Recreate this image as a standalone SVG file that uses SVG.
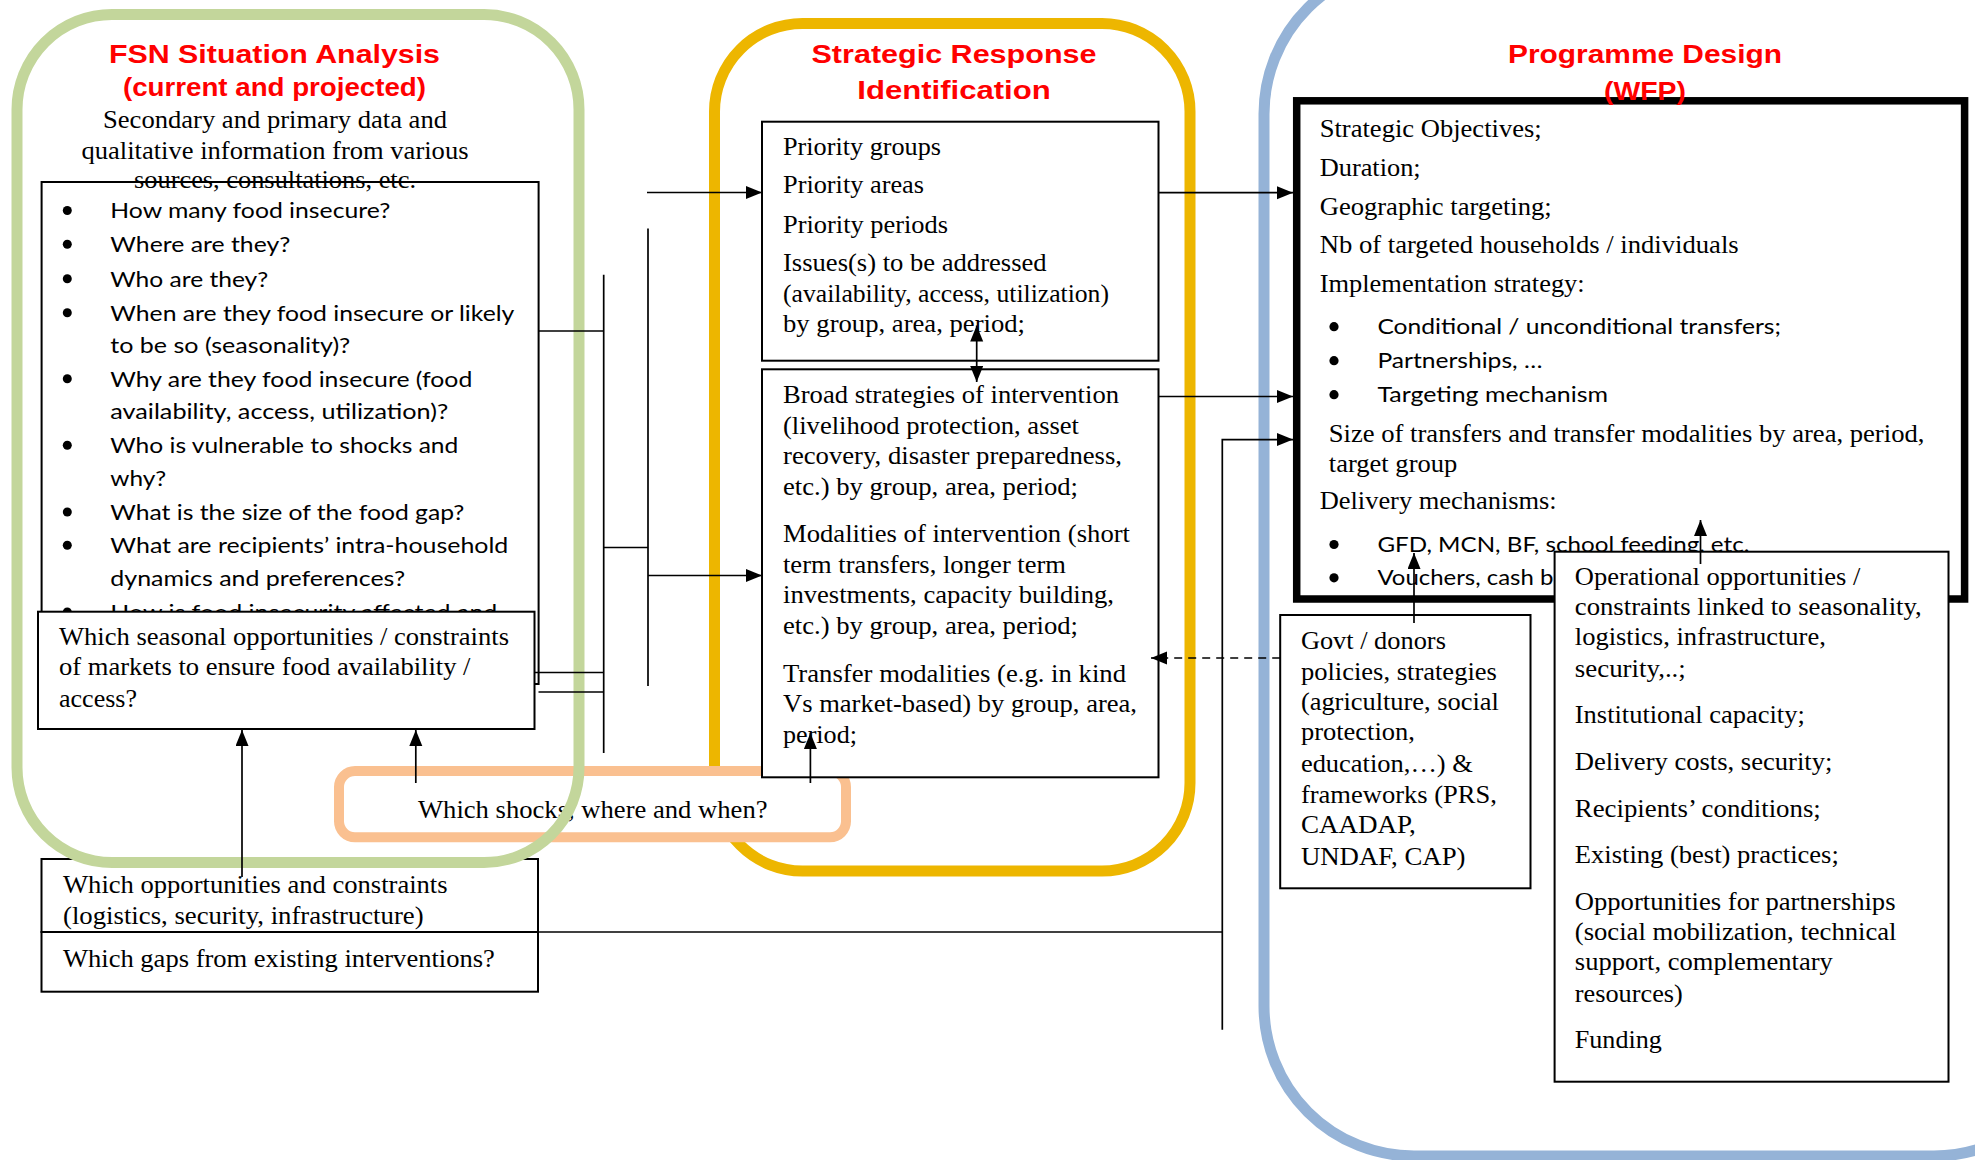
<svg xmlns="http://www.w3.org/2000/svg" width="1975" height="1160" viewBox="0 0 1975 1160">
<style>
.bg{fill:#ffffff}
.frame{fill:none;stroke-width:11}
.box{fill:#ffffff;stroke:#000000;stroke-width:2}
.ser{font-family:'Liberation Serif','Times New Roman',serif;font-size:26px;fill:#000000}
.cal{font-family:Lato,'Liberation Sans',sans-serif;font-size:22px;fill:#000000}
.ttl{font-family:'Liberation Sans',Arial,sans-serif;font-weight:bold;font-size:25px;fill:#ff0000;text-anchor:middle}
.ln{fill:none;stroke:#000000;stroke-width:1.7}
.dash{fill:none;stroke:#000000;stroke-width:1.7;stroke-dasharray:8 6}
.dot{fill:#000000}
</style>
<defs>
<marker id="ah" markerUnits="userSpaceOnUse" markerWidth="17" markerHeight="14" refX="16" refY="6.5" orient="auto-start-reverse">
<path d="M0,0 L16,6.5 L0,13 z" fill="#000000"/>
</marker>
</defs>
<rect class="bg" x="0" y="0" width="1975" height="1160"/>

<g id="frame-strategic">
<rect class="frame" x="714.5" y="23.5" width="475.5" height="847.5" rx="88" ry="88" stroke="#EDB600"/>
</g>
<g id="frame-programme">
<rect class="frame" x="1264" y="-36" width="820" height="1192" rx="150" ry="150" stroke="#95B3D7"/>
</g>

<g id="titles">
<text class="ttl" x="274.5" y="62.7" textLength="331" lengthAdjust="spacingAndGlyphs">FSN Situation Analysis</text>
<text class="ttl" x="274.5" y="96" font-size="23" textLength="303" lengthAdjust="spacingAndGlyphs">(current and projected)</text>
<text class="ttl" x="954" y="62.7" textLength="285" lengthAdjust="spacingAndGlyphs">Strategic Response</text>
<text class="ttl" x="954" y="99.3" textLength="193.5" lengthAdjust="spacingAndGlyphs">Identification</text>
<text class="ttl" x="1645" y="62.7" textLength="274" lengthAdjust="spacingAndGlyphs">Programme Design</text>
</g>

<g id="node-questions">
<rect class="box" x="41.6" y="182" width="497" height="502"/>
<text class="ser" font-size="27" text-anchor="middle" x="275" y="128" textLength="344" lengthAdjust="spacingAndGlyphs">Secondary and primary data and</text>
<text class="ser" font-size="27" text-anchor="middle" x="275" y="159" textLength="387" lengthAdjust="spacingAndGlyphs">qualitative information from various</text>
<text class="ser" font-size="27" text-anchor="middle" x="275" y="188" textLength="282" lengthAdjust="spacingAndGlyphs">sources, consultations, etc.</text>
<circle class="dot" cx="67.3" cy="210.5" r="4.5"/>
<circle class="dot" cx="67.3" cy="244.3" r="4.5"/>
<circle class="dot" cx="67.3" cy="278.7" r="4.5"/>
<circle class="dot" cx="67.3" cy="312.7" r="4.5"/>
<circle class="dot" cx="67.3" cy="378.7" r="4.5"/>
<circle class="dot" cx="67.3" cy="445.3" r="4.5"/>
<circle class="dot" cx="67.3" cy="512" r="4.5"/>
<circle class="dot" cx="67.3" cy="545.3" r="4.5"/>
<circle class="dot" cx="67.3" cy="612" r="4.5"/>
<text class="cal" x="110.3" y="218.3" textLength="280" lengthAdjust="spacingAndGlyphs">How many food insecure?</text>
<text class="cal" x="110.3" y="252.3" textLength="180" lengthAdjust="spacingAndGlyphs">Where are they?</text>
<text class="cal" x="110.3" y="286.7" textLength="158" lengthAdjust="spacingAndGlyphs">Who are they?</text>
<text class="cal" x="110.3" y="320.7" textLength="404" lengthAdjust="spacingAndGlyphs">When are they food insecure or likely</text>
<text class="cal" x="110.3" y="353.3" textLength="240" lengthAdjust="spacingAndGlyphs">to be so (seasonality)?</text>
<text class="cal" x="110.3" y="386.7" textLength="362" lengthAdjust="spacingAndGlyphs">Why are they food insecure (food</text>
<text class="cal" x="110.3" y="419.3" textLength="338" lengthAdjust="spacingAndGlyphs">availability, access, utilization)?</text>
<text class="cal" x="110.3" y="453.3" textLength="348" lengthAdjust="spacingAndGlyphs">Who is vulnerable to shocks and</text>
<text class="cal" x="110.3" y="486" textLength="56" lengthAdjust="spacingAndGlyphs">why?</text>
<text class="cal" x="110.3" y="520" textLength="354" lengthAdjust="spacingAndGlyphs">What is the size of the food gap?</text>
<text class="cal" x="110.3" y="553.3" textLength="398" lengthAdjust="spacingAndGlyphs">What are recipients’ intra-household</text>
<text class="cal" x="110.3" y="586" textLength="295" lengthAdjust="spacingAndGlyphs">dynamics and preferences?</text>
<text class="cal" x="110.3" y="620" textLength="387" lengthAdjust="spacingAndGlyphs">How  is food insecurity affected and</text>
</g>

<g id="node-seasonal">
<rect class="box" x="38" y="611.7" width="496.5" height="117.3" stroke-width="2.5"/>
<text class="ser" x="59" y="645" textLength="450" lengthAdjust="spacingAndGlyphs">Which seasonal opportunities / constraints</text>
<text class="ser" x="59" y="675" textLength="411.5" lengthAdjust="spacingAndGlyphs">of markets to ensure food availability /</text>
<text class="ser" x="59" y="706.7" textLength="78" lengthAdjust="spacingAndGlyphs">access?</text>
</g>

<g id="node-opportunities">
<rect class="box" x="41.5" y="859" width="496.5" height="73"/>
<text class="ser" x="63" y="893.3" textLength="384.6" lengthAdjust="spacingAndGlyphs">Which opportunities and constraints</text>
<text class="ser" x="63" y="924" textLength="360.6" lengthAdjust="spacingAndGlyphs">(logistics, security, infrastructure)</text>
</g>
<g id="node-gaps">
<rect class="box" x="41.5" y="932" width="496.5" height="59.7"/>
<text class="ser" x="63" y="966.7" textLength="431.8" lengthAdjust="spacingAndGlyphs">Which gaps from existing interventions?</text>
</g>

<g id="node-shocks">
<rect x="339" y="771" width="507" height="66.3" rx="16" ry="16" fill="#ffffff" stroke="#FAC090" stroke-width="10"/>
<text class="ser" x="418" y="818.3" textLength="349.5" lengthAdjust="spacingAndGlyphs">Which shocks, where and when?</text>
</g>

<g id="node-priorities">
<rect class="box" x="762" y="121.7" width="396.5" height="239"/>
<text class="ser" font-size="27" x="783" y="155" textLength="158" lengthAdjust="spacingAndGlyphs">Priority groups</text>
<text class="ser" font-size="27" x="783" y="193.3" textLength="141" lengthAdjust="spacingAndGlyphs">Priority areas</text>
<text class="ser" font-size="27" x="783" y="232.7" textLength="165" lengthAdjust="spacingAndGlyphs">Priority periods</text>
<text class="ser" font-size="27" x="783" y="270.7" textLength="263.6" lengthAdjust="spacingAndGlyphs">Issues(s) to be addressed</text>
<text class="ser" font-size="27" x="783" y="301.7" textLength="326" lengthAdjust="spacingAndGlyphs">(availability, access, utilization)</text>
<text class="ser" font-size="27" x="783" y="331.7" textLength="242" lengthAdjust="spacingAndGlyphs">by group, area, period;</text>
</g>

<g id="node-strategies">
<rect class="box" x="762" y="369.3" width="396.5" height="408"/>
<text class="ser" font-size="27" x="783" y="403.3" textLength="336" lengthAdjust="spacingAndGlyphs">Broad strategies of intervention</text>
<text class="ser" font-size="27" x="783" y="434" textLength="296" lengthAdjust="spacingAndGlyphs">(livelihood protection, asset</text>
<text class="ser" font-size="27" x="783" y="464.3" textLength="339" lengthAdjust="spacingAndGlyphs">recovery, disaster preparedness,</text>
<text class="ser" font-size="27" x="783" y="495" textLength="295" lengthAdjust="spacingAndGlyphs">etc.) by group, area, period;</text>
<text class="ser" font-size="27" x="783" y="542.3" textLength="347" lengthAdjust="spacingAndGlyphs">Modalities of intervention (short</text>
<text class="ser" font-size="27" x="783" y="572.7" textLength="283" lengthAdjust="spacingAndGlyphs">term transfers, longer term</text>
<text class="ser" font-size="27" x="783" y="602.7" textLength="331" lengthAdjust="spacingAndGlyphs">investments, capacity building,</text>
<text class="ser" font-size="27" x="783" y="634" textLength="295" lengthAdjust="spacingAndGlyphs">etc.) by group, area, period;</text>
<text class="ser" font-size="27" x="783" y="681.7" textLength="343" lengthAdjust="spacingAndGlyphs">Transfer modalities (e.g. in kind</text>
<text class="ser" font-size="27" x="783" y="711.7" textLength="354" lengthAdjust="spacingAndGlyphs">Vs market-based) by group, area,</text>
<text class="ser" font-size="27" x="783" y="743.3" textLength="74" lengthAdjust="spacingAndGlyphs">period;</text>
</g>

<g id="node-programme">
<rect x="1296.7" y="100.8" width="667.9" height="498.2" fill="#ffffff" stroke="#000000" stroke-width="7.5"/>
<text class="ser" x="1319.7" y="136.7" textLength="222" lengthAdjust="spacingAndGlyphs">Strategic Objectives;</text>
<text class="ser" x="1319.7" y="176" textLength="101" lengthAdjust="spacingAndGlyphs">Duration;</text>
<text class="ser" x="1319.7" y="215" textLength="232" lengthAdjust="spacingAndGlyphs">Geographic targeting;</text>
<text class="ser" x="1319.7" y="253.3" textLength="419" lengthAdjust="spacingAndGlyphs">Nb of targeted households / individuals</text>
<text class="ser" x="1319.7" y="291.7" textLength="265" lengthAdjust="spacingAndGlyphs">Implementation strategy:</text>
<circle class="dot" cx="1334" cy="326.7" r="4.6"/>
<circle class="dot" cx="1334" cy="360.7" r="4.6"/>
<circle class="dot" cx="1334" cy="394.7" r="4.6"/>
<text class="cal" font-size="23" x="1377.4" y="334.3" textLength="403.5" lengthAdjust="spacingAndGlyphs">Conditional / unconditional transfers;</text>
<text class="cal" font-size="23" x="1377.4" y="368.3" textLength="165" lengthAdjust="spacingAndGlyphs">Partnerships, …</text>
<text class="cal" font-size="23" x="1377.4" y="402.3" textLength="230.6" lengthAdjust="spacingAndGlyphs">Targeting mechanism</text>
<text class="ser" x="1328.8" y="441.7" textLength="595.6" lengthAdjust="spacingAndGlyphs">Size of transfers and transfer modalities by area, period,</text>
<text class="ser" x="1328.8" y="471.7" textLength="128.5" lengthAdjust="spacingAndGlyphs">target group</text>
<text class="ser" x="1319.7" y="509.3" textLength="237" lengthAdjust="spacingAndGlyphs">Delivery mechanisms:</text>
<circle class="dot" cx="1334" cy="544.5" r="4.6"/>
<circle class="dot" cx="1334" cy="577.8" r="4.6"/>
<text class="cal" font-size="23" x="1377.4" y="551.7" textLength="372" lengthAdjust="spacingAndGlyphs">GFD, MCN, BF, school feeding, etc.</text>
<text class="cal" font-size="23" x="1377.4" y="585" textLength="176" lengthAdjust="spacingAndGlyphs">Vouchers, cash b</text>
<text class="ttl" x="1645" y="100" textLength="82" lengthAdjust="spacingAndGlyphs">(WFP)</text>
</g>

<g id="node-govt">
<rect class="box" x="1280.2" y="615" width="250.3" height="273.3"/>
<text class="ser" x="1300.9" y="649.3" textLength="145" lengthAdjust="spacingAndGlyphs">Govt / donors</text>
<text class="ser" x="1300.9" y="680" textLength="196" lengthAdjust="spacingAndGlyphs">policies, strategies</text>
<text class="ser" x="1300.9" y="710" textLength="198" lengthAdjust="spacingAndGlyphs">(agriculture, social</text>
<text class="ser" x="1300.9" y="740" textLength="114" lengthAdjust="spacingAndGlyphs">protection,</text>
<text class="ser" x="1300.9" y="771.7" textLength="172" lengthAdjust="spacingAndGlyphs">education,…) &amp;</text>
<text class="ser" x="1300.9" y="802.5" textLength="196" lengthAdjust="spacingAndGlyphs">frameworks (PRS,</text>
<text class="ser" x="1300.9" y="833.3" textLength="115" lengthAdjust="spacingAndGlyphs">CAADAP,</text>
<text class="ser" x="1300.9" y="865" textLength="164.6" lengthAdjust="spacingAndGlyphs">UNDAF, CAP)</text>
</g>

<g id="node-operational">
<rect class="box" x="1554.6" y="551.7" width="393.9" height="530"/>
<text class="ser" x="1574.8" y="585" textLength="285.6" lengthAdjust="spacingAndGlyphs">Operational opportunities /</text>
<text class="ser" x="1574.8" y="615" textLength="347" lengthAdjust="spacingAndGlyphs">constraints linked to seasonality,</text>
<text class="ser" x="1574.8" y="645" textLength="251" lengthAdjust="spacingAndGlyphs">logistics, infrastructure,</text>
<text class="ser" x="1574.8" y="676.7" textLength="111" lengthAdjust="spacingAndGlyphs">security,..;</text>
<text class="ser" x="1574.8" y="723.3" textLength="230" lengthAdjust="spacingAndGlyphs">Institutional capacity;</text>
<text class="ser" x="1574.8" y="770" textLength="257.6" lengthAdjust="spacingAndGlyphs">Delivery costs, security;</text>
<text class="ser" x="1574.8" y="816.7" textLength="246" lengthAdjust="spacingAndGlyphs">Recipients’ conditions;</text>
<text class="ser" x="1574.8" y="863.3" textLength="264" lengthAdjust="spacingAndGlyphs">Existing (best) practices;</text>
<text class="ser" x="1574.8" y="910" textLength="320.7" lengthAdjust="spacingAndGlyphs">Opportunities for partnerships</text>
<text class="ser" x="1574.8" y="940" textLength="321.7" lengthAdjust="spacingAndGlyphs">(social mobilization, technical</text>
<text class="ser" x="1574.8" y="970" textLength="258" lengthAdjust="spacingAndGlyphs">support, complementary</text>
<text class="ser" x="1574.8" y="1001.7" textLength="108" lengthAdjust="spacingAndGlyphs">resources)</text>
<text class="ser" x="1574.8" y="1048.3" textLength="87" lengthAdjust="spacingAndGlyphs">Funding</text>
</g>

<g id="frame-situation">
<rect class="frame" x="17" y="14.5" width="562" height="848" rx="95" ry="95" stroke="#C3D69B"/>
</g>

<g id="connectors">
<path class="ln" d="M538.5,331 H603.7"/>
<path class="ln" d="M603.7,274.7 V753"/>
<path class="ln" d="M603.7,547.5 H648"/>
<path class="ln" d="M648,228.5 V686"/>
<path class="ln" d="M648,575.5 H762" marker-end="url(#ah)"/>
<path class="ln" d="M647,192.5 H762" marker-end="url(#ah)"/>
<path class="ln" d="M534.5,672.5 H603.7"/>
<path class="ln" d="M538.5,692 H603.7"/>
<path class="ln" d="M1158.5,192.7 H1293" marker-end="url(#ah)"/>
<path class="ln" d="M1158.5,396.5 H1293" marker-end="url(#ah)"/>
<path class="ln" d="M1222.3,1029.7 V439.6 H1293" marker-end="url(#ah)"/>
<path class="ln" d="M538,932 H1222.3"/>
<path class="dash" d="M1280.2,658 H1151" marker-end="url(#ah)"/>
<path class="ln" d="M976.7,325.5 V382" marker-start="url(#ah)" marker-end="url(#ah)"/>
<path class="ln" d="M810.4,783 V733" marker-end="url(#ah)"/>
<path class="ln" d="M415.8,783 V730" marker-end="url(#ah)"/>
<path class="ln" d="M242,877 V730" marker-end="url(#ah)"/>
<path class="ln" d="M1414,623 V553" marker-end="url(#ah)"/>
<path class="ln" d="M1700.5,564 V520" marker-end="url(#ah)"/>
</g>
</svg>
